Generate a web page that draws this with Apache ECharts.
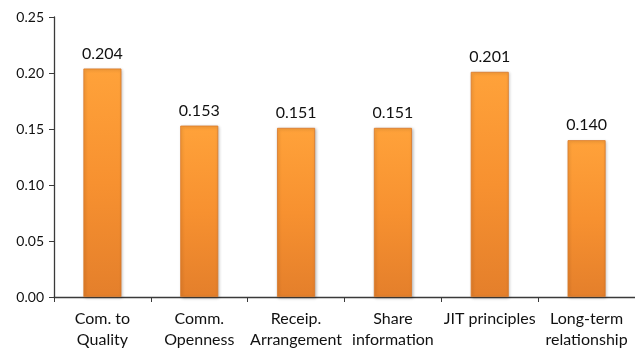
<!DOCTYPE html>
<html>
<head>
<meta charset="utf-8">
<script src="https://cdn.jsdelivr.net/npm/echarts@6/dist/echarts.min.js"></script>
<style>
  html, body { margin: 0; padding: 0; background: #fff; }
  #chart { width: 635px; height: 350px; }
</style>
</head>
<body>
<div id="chart"></div>
<script>
// Relative weights of supplier-relationship factors
const categories = [
  'Com. to\nQuality',
  'Comm.\nOpenness',
  'Receip.\nArrangement',
  'Share\ninformation',
  'JIT principles',
  'Long-term\nrelationship'
];
const weights = [0.204, 0.153, 0.151, 0.151, 0.201, 0.140];
const yTicks = { min: 0, max: 0.25, step: 0.05 };

const fontFamily = 'Lato, "Open Sans", "Liberation Sans", sans-serif';

const chart = echarts.init(document.getElementById('chart'), null, { renderer: 'canvas' });

chart.setOption({
  animation: false,
  backgroundColor: '#ffffff',
  grid: { left: 54, top: 17, width: 584, bottom: 53, containLabel: false },
  xAxis: {
    type: 'category',
    data: categories,
    boundaryGap: true,
    axisLine: { lineStyle: { color: '#3a3a3a', width: 1.3 } },
    axisTick: { show: true, alignWithLabel: false, length: 5, lineStyle: { color: '#3a3a3a' } },
    axisLabel: {
      color: '#111', fontSize: 16, fontFamily: fontFamily,
      lineHeight: 21, margin: 11, interval: 0
    }
  },
  yAxis: {
    type: 'value',
    min: yTicks.min,
    max: yTicks.max,
    interval: yTicks.step,
    splitLine: { show: false },
    axisLine: { show: true, lineStyle: { color: '#3a3a3a', width: 1.3 } },
    axisTick: { show: true, length: 5, lineStyle: { color: '#3a3a3a' } },
    axisLabel: {
      color: '#111', fontSize: 14, fontFamily: fontFamily, margin: 10,
      formatter: v => v.toFixed(2)
    }
  },
  series: [{
    type: 'bar',
    data: weights,
    barWidth: 38,
    itemStyle: {
      color: new echarts.graphic.LinearGradient(0, 0, 0, 1, [
        { offset: 0, color: '#FFA23A' },
        { offset: 0.5, color: '#F79130' },
        { offset: 1, color: '#E47F2B' }
      ]),
      borderColor: '#D9792A',
      borderWidth: 0.8,
      shadowColor: 'rgba(0,0,0,0.25)',
      shadowBlur: 3,
      shadowOffsetX: 1,
      shadowOffsetY: 1
    },
    label: {
      show: true,
      position: 'top',
      distance: 7,
      color: '#111',
      fontSize: 16,
      fontFamily: fontFamily,
      formatter: p => p.value.toFixed(3)
    }
  }]
});
</script>
</body>
</html>
